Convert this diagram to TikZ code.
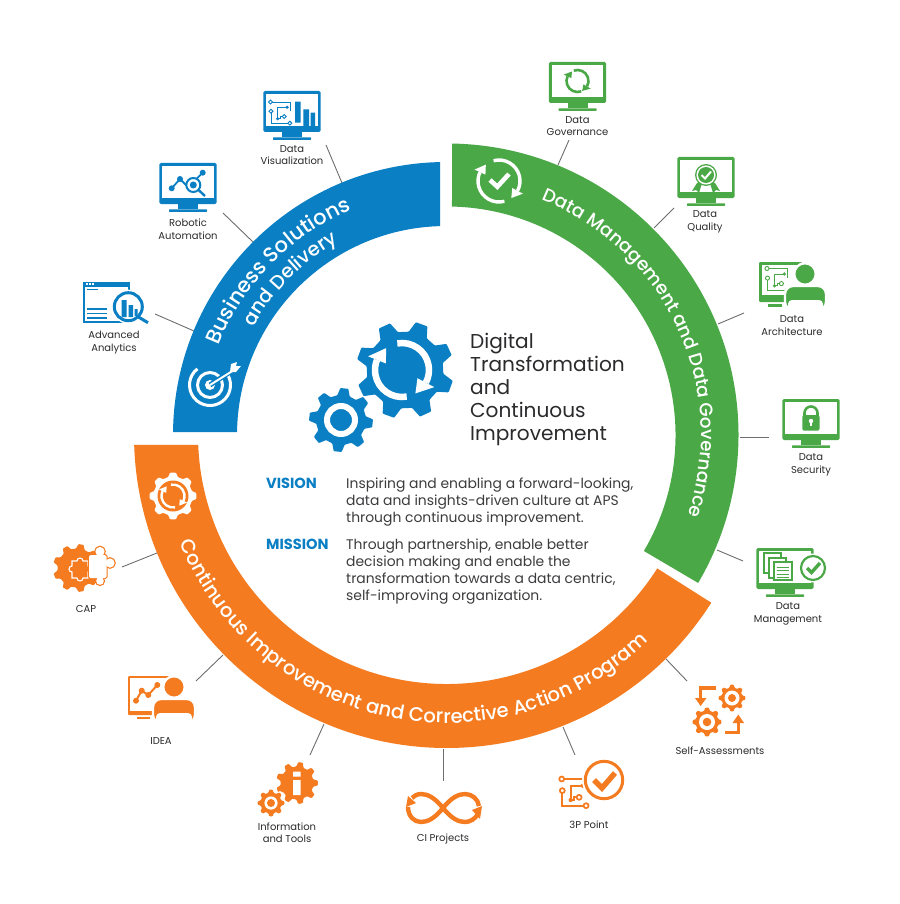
\documentclass[tikz,border=0pt]{standalone}
\usepackage{fontspec}
\setmainfont{Poppins}
\newfontfamily\popm{Poppins Medium}
\usetikzlibrary{decorations.text}
\definecolor{gG}{HTML}{4BA847}
\definecolor{bB}{HTML}{0A7FC4}
\definecolor{oO}{HTML}{F47B20}
\definecolor{tD}{HTML}{2B2B2D}
\definecolor{tM}{HTML}{3C3C3E}
\definecolor{cG}{HTML}{6D6E71}
\tikzset{
  lbl/.style={inner sep=0pt,align=center,anchor=base,text=tD,font=\fontsize{10}{12.2}\selectfont},
  conn/.style={draw=cG,line width=.9pt},
  ttl/.style={inner sep=0pt,align=left,anchor=base west,text=tD,font=\fontsize{20.1}{23}\selectfont},
  bodytxt/.style={inner sep=0pt,align=left,anchor=base west,text=tM,font=\fontsize{13.9}{17}\selectfont},
  head/.style={inner sep=0pt,anchor=base west,text=bB,font=\fontsize{14.6}{15}\selectfont\bfseries},
}
\newcommand\monitor[3]{\begin{scope}[shift={(#1,#2)}]
  \fill[#3,rounded corners=1.5pt] (-28.7,0) rectangle (28.7,41);
  \fill[white] (-25.7,3) rectangle (25.7,35);
  \fill[#3] (-10,41) rectangle (10,46);
  \fill[#3,rounded corners=.5pt] (-19,46.3) rectangle (19,48.8);
\end{scope}}
\newcommand\arcarrow[8]{\begin{scope}[shift={(#1,#2)}]
  \draw[#8,line width=#6pt] (#4:#3) arc[start angle=#4,end angle=#5,radius=#3];
  \fill[#8] (#5:{#3-#7}) -- (#5:{#3+#7}) -- ({#5+1.6*#7/#3*57.3}:#3) -- cycle;
\end{scope}}
\newcommand\gear[7]{\begin{scope}[shift={(#1,#2)}]
  \pgfmathsetmacro\gs{360/#5}
  \fill[#6,rounded corners=.8pt] ({#7-.32*\gs}:#4)
    \foreach \i in {1,...,#5}{
      -- ({#7+(\i-1)*\gs-.32*\gs}:#4) -- ({#7+(\i-1)*\gs-.16*\gs}:#3)
      -- ({#7+(\i-1)*\gs+.16*\gs}:#3) -- ({#7+(\i-1)*\gs+.32*\gs}:#4)
    } -- cycle;
\end{scope}}
% x,y,colour,scale,line width
\newcommand\circuit[5]{\begin{scope}[shift={(#1,#2)},scale=#4]
  \draw[#3,line width=#5pt] (1.6,0) -- (17,0) -- (17,8)
     (.4,9.6) -- (.4,18.4) -- (15.2,18.4)
     (6.2,14.5) -- (6.2,4.6) -- (14.5,4.6)
     (10.3,12.6) -- (8.5,12.6) -- (8.5,14.5) -- (6.2,14.5);
  \draw[#3,line width=#5pt,fill=white] (0,0) circle (1.7) (.4,8) circle (1.7) (16.8,18.4) circle (1.7) (12,12.6) circle (1.7);
  \fill[#3] (14.5,4.6) circle (1.5) (6.2,14.5) circle (1.5);
\end{scope}}
\newcommand\person[5]{% head x,y, left, right, col
  \fill[#5,draw=white,line width=2.4pt] (#1,#2) circle (10.8);
  \fill[#5,draw=white,line width=2.4pt,rounded corners=8pt] (#3,{#2+36}) -- (#3,{#2+12}) -- (#4,{#2+12}) -- (#4,{#2+36}) -- cycle;
  \fill[white,rounded corners=4pt] ({#3+3},{#2+37}) -- ({#3+3},{#2+26}) -- ({#4-3},{#2+26}) -- ({#4-3},{#2+37}) -- cycle;
}
\begin{document}
\begin{tikzpicture}[x=1pt,y=-1pt]
\useasboundingbox (0,0) rectangle (899,904);
\fill[white] (0,0) rectangle (899,904);
% connectors
\foreach \n/\ax/\ay/\bx/\by in {dg/569/140/558/165,dq/674/208/654/228,da/744/313/718/324,ds/769/437/740/437,dm/743/561/717/550,
  sa/687/681/666/659,tp/575/755/563/727,ci/443/781/443/749,it/310/755/324/724,id/196/681/223/655,ca/122/567/157/553,
  aa/155/314/194/331,ra/223/213/253/242,dv/326/145/342/183}{
  \coordinate (\n a) at (\ax,\ay);
  \coordinate (\n b) at (\bx,\by);
  \draw[conn] (\n a) -- (\n b);
}
% bands
\begin{scope}[shift={(447,435)}]
  \fill[gG] (-89:291.5) arc[start angle=-89,end angle=30.5,radius=291.5] -- (30.5:228.5) arc[start angle=30.5,end angle=-88.75,radius=228.5] -- cycle;
  \fill[oO] (178.17:313) arc[start angle=178.17,end angle=32.4,radius=313] -- (32.4:249) arc[start angle=32.4,end angle=177.7,radius=249] -- cycle;
  \path[decorate,decoration={text along path,text align=center,text={|\popm\fontsize{18.3}{22}\selectfont\color{white}|Data Management and Data Governance}}]
     (-104.8:254) arc[start angle=-104.8,end angle=55.2,radius=254];
  \path[decorate,decoration={text along path,text align=center,text={|\popm\fontsize{19.6}{24}\selectfont\color{white}|Continuous Improvement and Corrective Action Program}}]
     (176.9:288) arc[start angle=176.9,end angle=26.9,radius=288];
\end{scope}
\begin{scope}[shift={(446,435)}]
  \fill[bB] (180.63:273) arc[start angle=180.63,end angle=268.74,radius=273] -- (268.36:209) arc[start angle=268.36,end angle=180.82,radius=209] -- cycle;
  \path[decorate,decoration={text along path,text align=center,text={|\popm\fontsize{21}{24}\selectfont\color{white}|Business Solutions}}]
     (184.3:244) arc[start angle=184.3,end angle=264.3,radius=244];
  \path[decorate,decoration={text along path,text align=center,text={|\popm\fontsize{19.4}{24}\selectfont\color{white}|and Delivery}}]
     (185:221) arc[start angle=185,end angle=265,radius=221];
\end{scope}
% band icons
\arcarrow{499}{181}{21}{-105}{28}{3.4}{6}{white}
\arcarrow{499}{181}{21}{75}{205}{3.4}{6}{white}
\draw[white,line width=4.6pt] (490,180) -- (497.3,186.7) -- (509,174);
\draw[white,line width=3pt] (232:20.5) ++(210,385) arc[start angle=-128,end angle=-390,radius=20.5];
\draw[white,line width=3pt] (210,385) circle (12.5);
\fill[white] (210,385) circle (5);
\draw[bB,line width=5pt] (210,385) -- (233,370);
\draw[white,line width=2pt] (210,385) -- (234,370);
\fill[white] (230,372) -- (231,364) -- (237,362) -- (236,366) -- (241,366) -- (236,372) -- cycle;
\gear{173}{496}{23.5}{19.5}{8}{white}{0}
\fill[oO] (173,496) circle (15.5);
\arcarrow{173}{496}{11.5}{-100}{25}{2.4}{4}{white}
\arcarrow{173}{496}{11.5}{80}{205}{2.4}{4}{white}
% centre gears
\gear{405}{370}{49}{38.5}{8}{bB}{20}
\arcarrow{402}{370}{27}{-100}{28}{6.5}{9.5}{white}
\arcarrow{402}{370}{27}{80}{202}{6.5}{9.5}{white}
\begin{scope}[shift={(341,420)}]\draw[white,line width=4pt] (0,0) circle (29);\end{scope}
\gear{341}{420}{32}{25}{8}{bB}{6}
\draw[white,line width=6pt] (341,420) circle (14);
% green icons
\monitor{577.5}{62}{gG}
\arcarrow{577.5}{81}{11}{-110}{30}{2.6}{4.2}{gG}
\arcarrow{577.5}{81}{11}{70}{205}{2.6}{4.2}{gG}
\monitor{706}{157}{gG}
\fill[gG] (697,183) -- (702,183) -- (699,193) -- (696,190) -- (692,191) -- cycle;
\fill[gG] (715,183) -- (710,183) -- (713,193) -- (716,190) -- (720,191) -- cycle;
\fill[gG] (706,175) circle (11);
\fill[white] (706,175) circle (9.6);
\fill[gG] (706,175) circle (8);
\draw[white,line width=2pt] (701.5,175) -- (705,178.5) -- (711,171.5);
% data architecture
\fill[gG,rounded corners=1pt] (759,262) rectangle (802,302);
\fill[white] (762,265) rectangle (802,295);
\fill[gG] (768,304) rectangle (782,306.5);
\circuit{767}{268.5}{gG}{1.2}{.9}
\person{805}{274}{785}{826}{gG}
% data security
\monitor{811}{399}{gG}
\draw[gG,line width=2.6pt] (804.5,416) -- (804.5,413) arc[start angle=180,end angle=360,radius=6.5] -- (817.5,416);
\fill[gG,rounded corners=2pt] (802.3,415) rectangle (819.5,430.7);
\fill[white] (811,421) circle (2.2);
\draw[white,line width=1.6pt] (811,421) -- (811,426);
% data management
\monitor{785}{548}{gG}
\foreach \px/\py/\qx/\qy in {764/553/781/573,769/558/786/578,774/562/792/580}{
  \draw[gG,line width=1.3pt,fill=white] (\px,\py) rectangle (\qx,\qy);}
\foreach \ly in {567,570.5,574,577}{\draw[gG,line width=1pt] (777,\ly) -- (789,\ly);}
\fill[white] (813,568) circle (14.5);
\draw[gG,line width=2.2pt] (813,568) circle (12);
\draw[gG,line width=3.4pt] (807,568) -- (811.5,572.5) -- (820,563);
% blue icons
\monitor{292}{91}{bB}
\circuit{270.5}{102}{bB}{1.15}{.9}
\fill[bB] (295,101.7) rectangle (300.7,122.7) (303.3,109.3) rectangle (309,126) (310.5,112.7) rectangle (315,126);
\monitor{188}{163}{bB}
\draw[bB,line width=1.8pt] (171.7,188.3) -- (180,179) -- (188.3,187.3) -- (202.7,172.7);
\fill[bB] (171.7,188.3) circle (3) (180,179) circle (3) (202.7,172.7) circle (3);
\draw[bB,line width=2pt,fill=white] (193.3,185) circle (7);
\fill[bB] (193.3,185) circle (3.5);
\draw[bB,line width=2.4pt] (198.5,190) -- (205,196);
% advanced analytics
\fill[bB] (83,282) rectangle (130,323);
\fill[white] (84.7,287) rectangle (128.3,321.4);
\foreach \dx in {86,89,92}{\fill[white] (\dx,283.4) rectangle ++(1.5,1.5);}
\fill[bB] (86.5,288.6) rectangle (98,290);
\foreach \ly in {308,312.5,317}{\fill[bB] (86.5,\ly) rectangle (107,{\ly+1.5});}
\fill[white] (128.3,306.7) circle (17);
\draw[bB,line width=3pt] (128.3,306.7) circle (14);
\fill[bB] (121.5,300) rectangle (126.5,317) (128.5,305) rectangle (133,317) (134.5,309) rectangle (137.5,316);
\draw[bB,line width=3pt] (138.5,317) -- (148,322.7);
% orange icons
\gear{77}{568}{24}{19.5}{9}{oO}{0}
\draw[white,line width=1.1pt] (72,561) -- (77,561) arc[start angle=180,end angle=360,radius=3] -- (88,561) -- (88,566) arc[start angle=-90,end angle=90,radius=3] -- (88,578) -- (83,578) arc[start angle=0,end angle=180,radius=3] -- (72,578) -- (72,572) arc[start angle=90,end angle=270,radius=3] -- cycle;
\draw[oO,line width=2.4pt,rounded corners=1.5pt] (89,555) rectangle (106.5,578);
\draw[oO,line width=2.4pt] (100,551.5) circle (4.6) (110,563) circle (4.6) (100,581) circle (3.8);
\fill[white,rounded corners=1.5pt] (89,555) rectangle (106.5,578);
\fill[white] (100,551.5) circle (4.6) (110,563) circle (4.6) (100,581) circle (3.8);
% IDEA
\fill[oO,rounded corners=1pt] (128,676) rectangle (170,715);
\fill[white] (130.4,678.4) rectangle (170,710.5);
\fill[oO] (137,717) rectangle (150,719);
\draw[oO,line width=2pt] (136,700.7) -- (141.7,690.7) -- (148.3,695) -- (157.3,685);
\fill[oO] (136,700.7) circle (3) (141.7,690.7) circle (3) (148.3,695) circle (3) (157.3,685) circle (3);
\person{174}{687}{153}{195}{oO}
% information and tools
\gear{297}{783}{21}{16.5}{9}{oO}{0}
\fill[white] (293,780) rectangle (300.7,795) (293,771.7) rectangle (300.7,776.7);
\gear{271}{803}{15.5}{12}{8}{white}{0}
\gear{271}{803}{13.5}{10.5}{8}{oO}{0}
\fill[white] (271,803) circle (6.6);
\fill[oO] (271,803) circle (4);
% CI projects
\draw[oO,line width=4.4pt] (443,808) .. controls (451,798) and (458,794) .. (465,794) .. controls (472,794) and (478,799) .. (479,806);
\draw[oO,line width=4.4pt] (478,814) .. controls (475,819) and (470,822) .. (465,822) .. controls (458,822) and (451,818) .. (443,808);
\draw[oO,line width=4.4pt] (443,808) .. controls (435,798) and (428,794) .. (421,794) .. controls (417,794) and (414,796) .. (412,798);
\draw[oO,line width=4.4pt] (408,807) .. controls (408,816) and (414,822) .. (421,822) .. controls (428,822) and (435,818) .. (443,808);
\fill[oO] (406,807) -- (416,803) -- (408,796) -- cycle;
\fill[oO] (482,806) -- (472,810) -- (480,819) -- cycle;
% 3P point
\circuit{561.7}{779}{oO}{1.45}{1.7}
\fill[white] (604,780) circle (22);
\draw[oO,line width=3pt] (604,780) circle (18.7);
\draw[oO,line width=5.4pt] (594,780) -- (602,788) -- (615,773);
% self assessments
\gear{732}{698}{13.5}{10.5}{8}{oO}{0}
\fill[white] (732,698) circle (7.5);
\fill[oO] (732,698) circle (4);
\gear{707}{722}{14.5}{11.5}{8}{oO}{0}
\fill[white] (707,722) circle (8);
\fill[oO] (707,722) circle (4.3);
\draw[oO,line width=3.4pt] (716,688) -- (700.6,688) -- (700.6,699);
\fill[oO] (695,698) -- (706.5,698) -- (700.6,706) -- cycle;
\draw[oO,line width=3.4pt] (725,732.6) -- (738.3,732.6) -- (738.3,722);
\fill[oO] (732.5,723) -- (744,723) -- (738.3,714.5) -- cycle;
% centre text
\node[ttl] (title) at (470,440) {Digital\\Transformation\\and\\Continuous\\Improvement};
\node[head] (vis) at (266,488.5) {VISION};
\node[head] (mis) at (266,549.5) {MISSION};
\node[bodytxt] (vist) at (346,522) {Inspiring and enabling a forward-looking,\\data and insights-driven culture at APS\\through continuous improvement.};
\node[bodytxt] (mist) at (346,600) {Through partnership, enable better\\decision making and enable the\\transformation towards a data centric,\\self-improving organization.};
% labels
\node[lbl] (l1) at (577.5,136) {Data\\Governance};
\node[lbl] (l2) at (705,230) {Data\\Quality};
\node[lbl] (l3) at (792,335) {Data\\Architecture};
\node[lbl] (l4) at (811,473) {Data\\Security};
\node[lbl] (l5) at (788,622) {Data\\Management};
\node[lbl] (l6) at (720,754) {Self-Assessments};
\node[lbl] (l7) at (589,828) {3P Point};
\node[lbl] (l8) at (443,841) {CI Projects};
\node[lbl] (l9) at (287,842.5) {Information\\and Tools};
\node[lbl] (l10) at (161,744) {IDEA};
\node[lbl] (l11) at (86,612) {CAP};
\node[lbl] (l12) at (114,351) {Advanced\\Analytics};
\node[lbl] (l13) at (188,239) {Robotic\\Automation};
\node[lbl] (l14) at (292,165) {Data\\Visualization};
\end{tikzpicture}
\end{document}
